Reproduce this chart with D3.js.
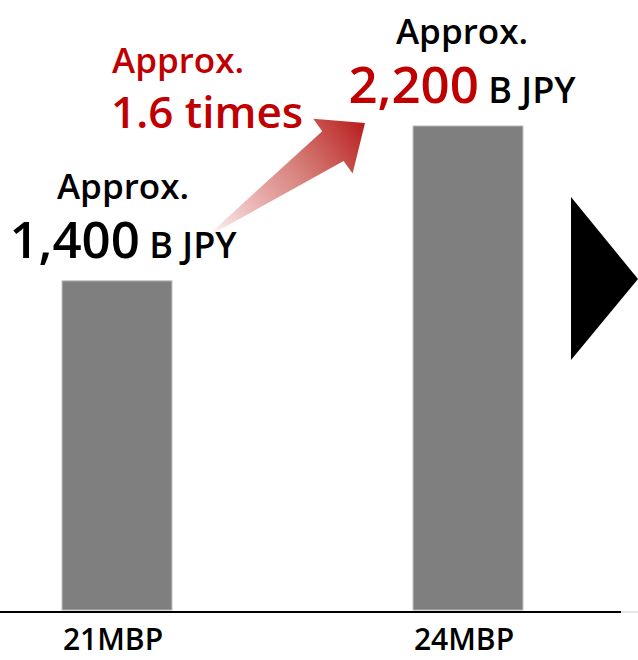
<!DOCTYPE html>
<html>
<head>
<meta charset="utf-8">
<script src="https://cdn.jsdelivr.net/npm/d3@7"></script>
<style>
  html, body { margin: 0; padding: 0; background: #fff; }
  svg { display: block; }
  text { font-family: "Open Sans", "Noto Sans", sans-serif; font-weight: 600; }
</style>
</head>
<body>
<svg id="chart" width="638" height="660"></svg>
<script>
// Business size by management plan
const categories = ["21MBP", "24MBP"];
const values = [1400, 2200];
const valueLabels = ["1,400", "2,200"];
const prefixLabel = "Approx.";
const unitLabel = "B JPY";
const growthLabel = ["Approx.", "1.6 times"];

const W = 638, H = 660;
const svg = d3.select("#chart");

const red = "#c00000";
const barFill = "#7f7f7f";

// Scales
const x = d3.scaleBand()
  .domain(categories)
  .range([-58.5, 643.5])
  .paddingInner(0.687)
  .paddingOuter(0.3435);

const y = d3.scaleLinear()
  .domain([-300, 2200])
  .range([610, 126]);

const baseY = y(-300);

// Bars
svg.append("g").selectAll("rect")
  .data(values)
  .join("rect")
  .attr("x", (d, i) => x(categories[i]))
  .attr("y", d => y(d))
  .attr("width", x.bandwidth())
  .attr("height", d => baseY - y(d))
  .attr("fill", barFill)
  .attr("stroke", "#b8b8b8")
  .attr("stroke-width", 1);

// Baseline (category axis without ticks)
const axis = d3.axisBottom(x).tickSize(0).tickPadding(0);
const gx = svg.append("g")
  .attr("transform", `translate(0,${baseY + 2})`)
  .call(axis);
gx.select(".domain").remove();
gx.append("line")
  .attr("x1", 0).attr("x2", 621)
  .attr("stroke", "#000").attr("stroke-width", 2);
gx.append("line")
  .attr("x1", 621).attr("x2", W)
  .attr("stroke", "#e6e6e6").attr("stroke-width", 2);
gx.selectAll(".tick text")
  .attr("dx", -4)
  .attr("dy", 0)
  .attr("y", 38)
  .attr("fill", "#000")
  .style("font-size", "30px")
  .style("font-family", "'Open Sans', 'Noto Sans', sans-serif")
  .style("font-weight", 600);

// Value labels above bars
const labels = svg.append("g").selectAll("g")
  .data(values)
  .join("g")
  .attr("transform", (d, i) => {
    const cx = x(categories[i]) + x.bandwidth() / 2 + (i === 0 ? 6 : -6);
    return `translate(${cx},${y(d)})`;
  });

labels.append("text")
  .attr("text-anchor", "middle")
  .attr("y", -82)
  .attr("fill", "#000")
  .style("font-size", "35px")
  .text(prefixLabel);

const valText = labels.append("text")
  .attr("text-anchor", "middle")
  .attr("y", -23);
valText.append("tspan")
  .attr("fill", (d, i) => i === 1 ? red : "#000")
  .style("font-size", "51px")
  .text((d, i) => valueLabels[i]);
valText.append("tspan")
  .attr("fill", "#000")
  .style("font-size", "36px")
  .text(" " + unitLabel);

// Growth arrow: tapered shaft with gradient toward the head
const defs = svg.append("defs");
const tail = [205, 238], tip = [365, 123];
const grad = defs.append("linearGradient")
  .attr("id", "arrowGrad")
  .attr("gradientUnits", "userSpaceOnUse")
  .attr("x1", tail[0]).attr("y1", tail[1])
  .attr("x2", tip[0]).attr("y2", tip[1]);
grad.append("stop").attr("offset", "0%").attr("stop-color", red).attr("stop-opacity", 0);
grad.append("stop").attr("offset", "55%").attr("stop-color", "#c0392f").attr("stop-opacity", 0.6);
grad.append("stop").attr("offset", "100%").attr("stop-color", "#b71c1c").attr("stop-opacity", 1);

const dx = tip[0] - tail[0], dy = tip[1] - tail[1];
const len = Math.hypot(dx, dy);
const u = [dx / len, dy / len];
const n = [-u[1], u[0]];
const headLen = 39.5, headHalf = 33.7, shaftHalf = 18.3;
const base = [tip[0] - u[0] * headLen, tip[1] - u[1] * headLen];
const pt = (p, k) => [p[0] + n[0] * k, p[1] + n[1] * k];
const arrowPts = [
  tail,
  pt(base, -shaftHalf),
  pt(base, -headHalf),
  tip,
  pt(base, headHalf),
  pt(base, shaftHalf)
];
svg.append("path")
  .attr("d", d3.line()(arrowPts) + "Z")
  .attr("fill", "url(#arrowGrad)");

// Growth annotation
const growth = svg.append("text")
  .attr("fill", red);
growth.append("tspan").attr("x", 112).attr("y", 73)
  .style("font-size", "35px").text(growthLabel[0]);
growth.append("tspan").attr("x", 111).attr("y", 128)
  .style("font-size", "44px").text(growthLabel[1]);

// Continuation marker on the right
svg.append("path")
  .attr("d", d3.line()([[571, 197], [638, 279], [571, 360]]) + "Z")
  .attr("fill", "#000");
</script>
</body>
</html>
